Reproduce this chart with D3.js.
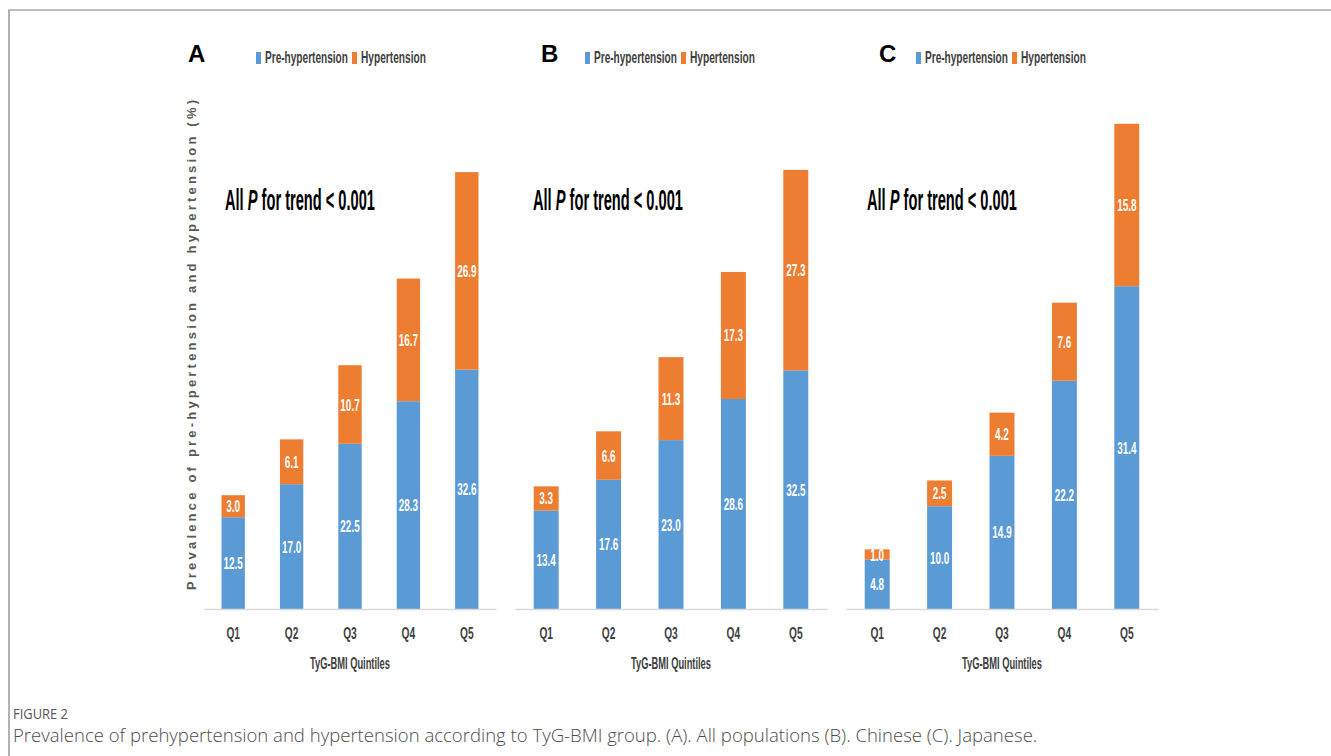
<!DOCTYPE html>
<html><head><meta charset="utf-8">
<script src="https://cdn.jsdelivr.net/npm/d3@7"></script>
<style>body{margin:0;background:#fff;} svg{display:block}</style>
</head><body>
<svg id="c" width="1331" height="756"></svg>
<script>
// ---- data ----
const categories = ["Q1", "Q2", "Q3", "Q4", "Q5"];
const preA = [12.5, 17.0, 22.5, 28.3, 32.6];
const hypA = [3.0, 6.1, 10.7, 16.7, 26.9];
const preB = [13.4, 17.6, 23.0, 28.6, 32.5];
const hypB = [3.3, 6.6, 11.3, 17.3, 27.3];
const preC = [4.8, 10.0, 14.9, 22.2, 31.4];
const hypC = [1.0, 2.5, 4.2, 7.6, 15.8];
const panelLetters = ["A", "B", "C"];
const seriesNames = ["Pre-hypertension", "Hypertension"];
const yMaxes = [70, 70, 50];
const trendLabel = ["All ", "P", " for trend < 0.001"];
const xTitle = "TyG-BMI Quintiles";
const yTitle = "Prevalence of pre-hypertension and hypertension (%)";
const captionHead = "FIGURE 2";
const captionText = "Prevalence of prehypertension and hypertension according to TyG-BMI group. (A). All populations (B). Chinese (C). Japanese.";

// ---- layout ----
const colors = ["#5B9BD5", "#ED7D31"];
const FONT = "'Liberation Sans', Arial, sans-serif";
const panels = [
  {pre: preA, hyp: hypA, x0: 204, x1: 496, letterX: 188, legendX: 256, trendX: 225},
  {pre: preB, hyp: hypB, x0: 515, x1: 827, letterX: 541, legendX: 585, trendX: 533},
  {pre: preC, hyp: hypC, x0: 846, x1: 1158, letterX: 879, legendX: 916, trendX: 867}
];
const baseY = 609, topY = 95;
const svg = d3.select("#c");

// frame
svg.append("path").attr("d", "M9,756V10H1331").attr("fill", "none")
  .attr("stroke", "#808080").attr("stroke-width", 1.2);

function narrow(g, x, y, txt, size, sx, opts = {}) {
  return g.append("text")
    .attr("transform", `translate(${x},${y}) scale(${sx},1)`)
    .attr("font-family", opts.family || FONT).attr("font-size", size)
    .attr("fill", opts.fill || "#404040")
    .attr("font-weight", opts.weight || "normal")
    .attr("text-anchor", opts.anchor || "start")
    .text(txt);
}
// scale a text horizontally so that it is len pixels wide
function fitScale(t, x, y, len) {
  const w = t.node().getComputedTextLength();
  t.attr("transform", `translate(${x},${y}) scale(${len / w},1)`);
  return t;
}
function fitted(g, x, y, txt, size, len, opts = {}) {
  const t = narrow(g, x, y, txt, size, 1, opts);
  return fitScale(t, x, y, len);
}

panels.forEach((p, i) => {
  const g = svg.append("g");
  const x = d3.scaleBand().domain(categories).range([p.x0, p.x1]).paddingInner(0.6).paddingOuter(0.3);
  const y = d3.scaleLinear().domain([0, yMaxes[i]]).range([baseY, topY]);
  const stackData = categories.map((c, j) => ({cat: c, pre: p.pre[j], hyp: p.hyp[j]}));
  const stack = d3.stack().keys(["pre", "hyp"])(stackData);

  stack.forEach((layer, k) => {
    g.selectAll(null).data(layer).enter().append("rect")
      .attr("x", d => x(d.data.cat)).attr("width", x.bandwidth())
      .attr("y", d => y(d[1])).attr("height", d => y(d[0]) - y(d[1]))
      .attr("fill", colors[k]);
    layer.forEach(d => {
      const v = d[1] - d[0];
      narrow(g, x(d.data.cat) + x.bandwidth() / 2, (y(d[0]) + y(d[1])) / 2 + 6,
        v.toFixed(1), 16, 0.62, {fill: "#fff", anchor: "middle", weight: "bold"});
    });
  });

  // x axis
  const ax = g.append("g").attr("transform", `translate(0,${baseY})`)
    .call(d3.axisBottom(x).tickSize(0).tickPadding(0));
  ax.select(".domain").attr("stroke", "#d9d9d9").attr("stroke-width", 1.5);
  ax.selectAll(".tick text").remove();
  categories.forEach(c => {
    narrow(g, x(c) + x.bandwidth() / 2, 639, c, 17, 0.6, {anchor: "middle", fill: "#404040", weight: "bold"});
  });
  fitted(g, (p.x0 + p.x1) / 2, 669, xTitle, 17, 80, {anchor: "middle", weight: "bold"});

  // panel letter
  g.append("text").attr("x", p.letterX).attr("y", 62).attr("font-family", FONT)
    .attr("font-size", 24).attr("font-weight", "bold").attr("fill", "#000").text(panelLetters[i]);

  // legend
  const lx = p.legendX;
  g.append("rect").attr("x", lx).attr("y", 52).attr("width", 5).attr("height", 12).attr("fill", colors[0]);
  g.append("rect").attr("x", lx + 96).attr("y", 52).attr("width", 5).attr("height", 12).attr("fill", colors[1]);
  fitted(g, lx + 9, 63, seriesNames[0], 16, 83, {weight: "bold"});
  fitted(g, lx + 105, 63, seriesNames[1], 16, 65, {weight: "bold"});

  // trend text (one text element, italic P)
  const tt = g.append("text").attr("font-family", FONT).attr("font-size", 30)
    .attr("fill", "#000").attr("font-weight", "bold");
  tt.append("tspan").text(trendLabel[0]);
  tt.append("tspan").attr("font-style", "italic").text(trendLabel[1]);
  tt.append("tspan").text(trendLabel[2]);
  fitScale(tt, p.trendX, 210, 150);
});

// y title
svg.append("text").attr("transform", "translate(196,345) rotate(-90)")
  .attr("text-anchor", "middle").attr("font-family", FONT).attr("font-size", 13)
  .attr("font-weight", "bold").attr("fill", "#595959")
  .attr("textLength", 490).attr("lengthAdjust", "spacing").text(yTitle);

// caption
fitted(svg, 13, 719, captionHead, 14, 55, {family: "'Open Sans', sans-serif", fill: "#555"});
fitted(svg, 13, 742, captionText, 18, 1025, {family: "'Open Sans', sans-serif", fill: "#4d4d4d", weight: 300});
</script>
</body></html>
